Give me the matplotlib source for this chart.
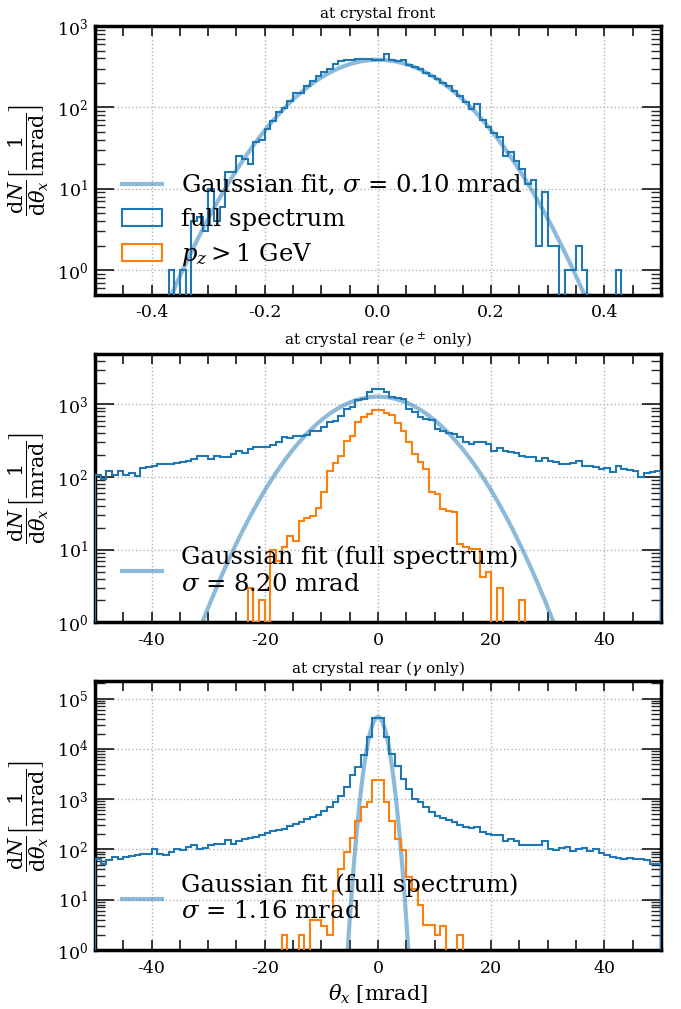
import numpy as np
import matplotlib
matplotlib.use('Agg')
from matplotlib import pyplot as plt
from matplotlib import ticker

plt.rcParams['font.family'] = ['DejaVu Serif']
plt.rcParams['mathtext.fontset'] = 'dejavuserif'
plt.rcParams['axes.unicode_minus'] = False

# bins (mrad)
front_edges = np.linspace(-0.5, 0.5, 101)
rear_edges = np.linspace(-50, 50, 101)

# at crystal front, full spectrum (nothing above 1 GeV)
front_full = [0, 0, 0, 0, 0, 0, 0, 0, 0, 0,
              0, 0, 0, 1, 0, 1, 0, 4, 4.5, 3,
              10, 4, 6, 16, 16, 25, 23, 20, 38, 40,
              55, 68, 88, 97, 120, 150, 152, 182, 212, 245,
              275, 295, 340, 370, 380, 385, 390, 392, 395, 385,
              381, 453, 381, 370, 385, 335, 315, 300, 268, 245,
              222, 200, 183, 160, 140, 118, 95, 110, 70, 57,
              49, 43, 25.5, 28.5, 22, 17.5, 11.4, 12.8, 2, 9,
              2, 2, 0, 1, 1, 2, 1, 0, 0, 0,
              0, 0, 1, 0, 0, 0, 0, 0, 0, 0]
front_hard = [0] * 100

# at crystal rear, e+- only
epm_full = [107, 94, 120, 107, 122, 108, 113, 105, 134, 137,
            141, 149, 152, 149, 155, 160, 169, 178, 198, 198,
            178, 198, 188, 188, 208, 232, 213, 244, 257, 257,
            262, 280, 300, 355, 348, 363, 373, 385, 437, 437,
            485, 570, 600, 700, 870, 915, 1150, 1200, 1500, 1650,
            1650, 1500, 1280, 1220, 1190, 870, 780, 670, 630, 610,
            460, 430, 400, 390, 355, 300, 286, 300, 300, 286,
            232, 250, 227, 220, 212, 198, 188, 191, 169, 183,
            169, 160, 149, 152, 155, 169, 144, 144, 137, 130,
            134, 117, 144, 130, 126, 120, 99, 113, 119, 122]
epm_hard = [0, 0, 0, 0, 0, 0, 0, 0, 0, 0,
            0, 0, 0, 0, 0, 0, 0, 0, 0, 0,
            0, 0, 0, 0, 0, 0, 0, 3, 1, 2,
            1, 10, 7, 11, 15.6, 13.3, 25, 27, 29, 38,
            62, 123, 155, 198, 317, 373, 570, 670, 740, 840,
            826, 770, 705, 550, 435, 300, 208, 160, 130, 62,
            59, 36.5, 34.5, 33, 12, 10.8, 10.2, 10.2, 4.2, 5.0,
            0, 3.0, 0, 0, 0, 2.0, 0, 0, 0, 0,
            0, 0, 0, 0, 0, 0, 0, 0, 0, 0,
            0, 0, 0, 0, 0, 0, 0, 0, 0, 0]

# at crystal rear, gamma only
gam_full = [65, 52, 63, 70, 65, 70, 73, 76, 80, 82,
            100, 82, 76, 89, 103, 96, 111, 120, 100, 107,
            124, 130, 130, 156, 130, 150, 163, 168, 176, 190,
            215, 230, 245, 260, 290, 320, 350, 405, 440, 490,
            570, 690, 870, 1140, 1720, 3000, 4300, 7700, 17000, 42000,
            42000, 17000, 7800, 4600, 2500, 1600, 1000, 870, 690, 550,
            470, 420, 390, 350, 300, 280, 265, 280, 220, 205,
            195, 190, 150, 163, 150, 120, 124, 120, 124, 145,
            103, 96, 106, 111, 91, 100, 106, 91, 100, 86,
            76, 71, 68, 65, 68, 64, 65, 61, 52, 52]
gam_hard = [0, 0, 0, 0, 0, 0, 0, 0, 0, 0,
            0, 0, 0, 0, 0, 0, 0, 0, 0, 0,
            0, 0, 0, 0, 0, 0, 0, 0, 0, 0,
            0, 0, 0, 2, 0, 0, 2, 0, 3.9, 3.9,
            3.0, 2.0, 15, 40, 89, 168, 365, 700, 870, 2450,
            2450, 895, 365, 163, 99, 28, 16.7, 7.8, 3.1, 3.1,
            2.0, 3.0, 0, 0, 2.0, 0, 0, 0, 0, 0,
            0, 0, 0, 0, 0, 0, 0, 0, 0, 0,
            0, 0, 0, 0, 0, 0, 0, 0, 0, 0,
            0, 0, 0, 0, 0, 0, 0, 0, 0, 0]

# gaussian fits: amplitude, mean, sigma
front_fit = (385, 0.0, 0.10)
epm_fit = (1280, 0.0, 8.20)
gam_fit = (43000, 0.0, 1.16)

titles = ['at crystal front', r'at crystal rear ($e^\pm$ only)',
          r'at crystal rear ($\gamma$ only)']
fit_labels = [r'Gaussian fit, $\sigma$ = 0.10 mrad',
              'Gaussian fit (full spectrum)\n' + r'$\sigma$ = 8.20 mrad',
              'Gaussian fit (full spectrum)\n' + r'$\sigma$ = 1.16 mrad']

panels = [(front_edges, front_full, front_hard, front_fit, (-0.5, 0.5), (0.5, 1e3), 0.2, 0.05),
          (rear_edges, epm_full, epm_hard, epm_fit, (-50, 50), (1, 5e3), 20, 5),
          (rear_edges, gam_full, gam_hard, gam_fit, (-50, 50), (1, 2.2e5), 20, 5)]

fig, axes = plt.subplots(3, 1, figsize=(6.81, 10.09), dpi=100)
plt.subplots_adjust(left=0.1395, right=0.9706, top=0.9742, bottom=0.0585, hspace=0.22)

for i, ax in enumerate(axes):
    edges, full, hard, fit, xlim, ylim, major, minor = panels[i]
    ax.set_yscale('log')
    amp, mu, sig = fit
    xs = np.linspace(xlim[0], xlim[1], 800)
    ax.plot(xs, amp * np.exp(-0.5 * ((xs - mu) / sig) ** 2), color='C0', alpha=0.5, lw=3,
            label=fit_labels[i], zorder=2)
    if i == 0:
        ax.hist(edges[:-1], bins=edges, weights=full, histtype='step', color='C0', lw=1.5,
                label='full spectrum', zorder=3)
        ax.hist(edges[:-1], bins=edges, weights=hard, histtype='step', color='C1', lw=1.5,
                label=r'$p_z > 1$ GeV', zorder=3)
    else:
        ax.hist(edges[:-1], bins=edges, weights=full, histtype='step', color='C0', lw=1.5, zorder=3)
        ax.hist(edges[:-1], bins=edges, weights=hard, histtype='step', color='C1', lw=1.5, zorder=3)
    ax.set_xlim(xlim)
    ax.set_ylim(ylim)
    ax.xaxis.set_major_locator(ticker.MultipleLocator(major))
    ax.xaxis.set_minor_locator(ticker.MultipleLocator(minor))
    if i == 0:
        ax.xaxis.set_major_formatter(ticker.FormatStrFormatter('%.1f'))
    ax.tick_params(axis='both', which='both', direction='in', top=True, right=True,
                   labelsize=12.5, color='0.15')
    ax.tick_params(axis='x', which='both', length=7, width=1.3, pad=7)
    ax.tick_params(axis='y', which='major', length=14, width=1.3, pad=5)
    ax.tick_params(axis='y', which='minor', length=7, width=1.0)
    for s in ax.spines.values():
        s.set_linewidth(2.5)
    ax.grid(True, which='major', linestyle=':', color='0.7', lw=1)
    ax.set_title(titles[i], fontsize=11)
    ax.set_ylabel(r'$\dfrac{\mathrm{d}N}{\mathrm{d}\theta_x}\left[\dfrac{1}{\mathrm{mrad}}\right]$',
                  fontsize=15, labelpad=4)
    ax.legend(loc='lower left', frameon=False, fontsize=17.5, handlelength=1.65,
              handletextpad=0.8, labelspacing=0.42, borderaxespad=0.7)

axes[2].set_xlabel(r'$\theta_x$ [mrad]', fontsize=15)

fig.savefig('out.png', dpi=100)
